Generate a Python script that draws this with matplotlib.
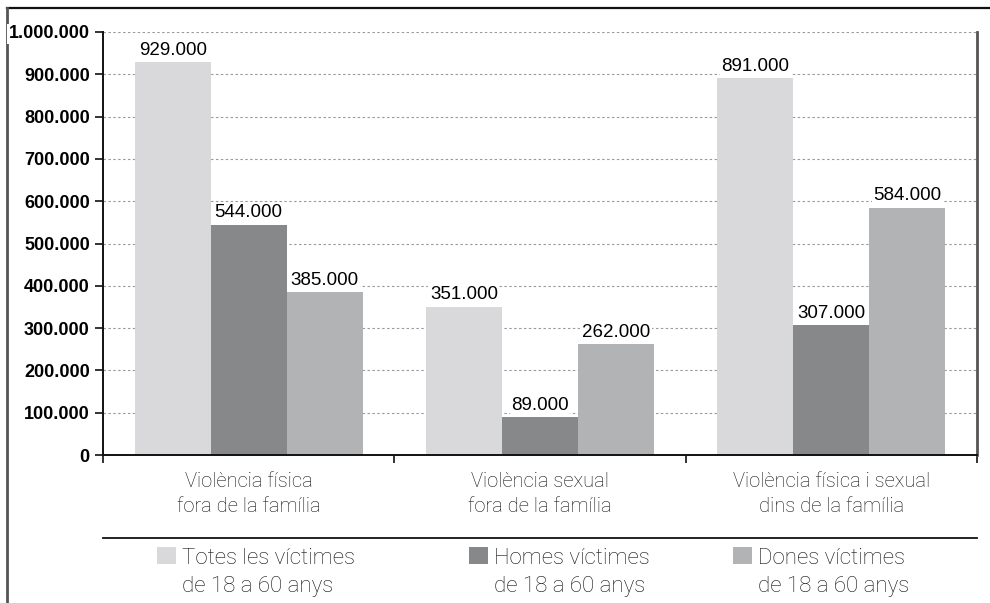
import matplotlib
matplotlib.use("Agg")
import matplotlib.pyplot as plt
import numpy as np
from matplotlib.lines import Line2D
from matplotlib.patches import Rectangle
from matplotlib.ticker import FuncFormatter, FixedLocator, NullFormatter

# Data
categories = ["Violència física\nfora de la família",
              "Violència sexual\nfora de la família",
              "Violència física i sexual\ndins de la família"]
series_names = ["Totes les víctimes\nde 18 a 60 anys",
                "Homes víctimes\nde 18 a 60 anys",
                "Dones víctimes\nde 18 a 60 anys"]
totes = [929000, 351000, 891000]
homes = [544000, 89000, 307000]
dones = [385000, 262000, 584000]
y_ticks = [0, 100000, 200000, 300000, 400000, 500000,
           600000, 700000, 800000, 900000, 1000000]

colors = ["#d9d9db", "#87888a", "#b2b3b5"]
light_family = ["Roboto", "Lato", "Liberation Sans", "DejaVu Sans"]
num_family = ["Liberation Sans", "DejaVu Sans"]


def thousands(v, _pos=None):
    return f"{int(round(v)):,}".replace(",", ".")


fig = plt.figure(figsize=(9.9, 6.03), dpi=100)
ax = fig.add_axes([103 / 990, 1 - 455 / 603, (977 - 103) / 990, (455 - 32) / 603])

x = np.arange(len(categories))
width = 0.261
all_series = [totes, homes, dones]
for i, (vals, col) in enumerate(zip(all_series, colors)):
    bars = ax.bar(x + (i - 1) * width, vals, width=width, color=col,
                  edgecolor="none", zorder=2)
    for b, v in zip(bars, vals):
        ax.annotate(thousands(v), (b.get_x() + b.get_width() / 2, v),
                    xytext=(0, 2.5), textcoords="offset points",
                    ha="center", va="bottom", fontsize=13.5,
                    family=num_family, color="#000000", zorder=4,
                    bbox=dict(boxstyle="square,pad=0.08", fc="white", ec="none"))

ax.set_xlim(-0.5, 2.5)
ax.set_ylim(0, 1000000)

# y axis
ax.yaxis.set_major_locator(FixedLocator(y_ticks))
ax.yaxis.set_major_formatter(FuncFormatter(thousands))
ax.tick_params(axis="y", direction="out", length=5.5, width=1.2,
               pad=4, labelsize=13, color="#111111")
for lbl in ax.get_yticklabels():
    lbl.set_fontweight("bold")
    lbl.set_family(num_family)
    lbl.set_bbox(dict(boxstyle="square,pad=0.1", fc="white", ec="none"))
ax.grid(axis="y", linestyle=(0, (2.2, 2.2)), color="#9a9a9a",
        linewidth=0.8, zorder=1)
ax.set_axisbelow(True)

# x axis: boundary ticks, labels centered under groups
ax.xaxis.set_major_locator(FixedLocator([-0.5, 0.5, 1.5, 2.5]))
ax.xaxis.set_major_formatter(NullFormatter())
ax.xaxis.set_minor_locator(FixedLocator(x))
ax.set_xticklabels(categories, minor=True)
ax.tick_params(axis="x", which="major", direction="out", length=5.5,
               width=1.2, color="#111111")
ax.tick_params(axis="x", which="minor", length=0, pad=12.5, labelsize=14.5,
               labelcolor="#111111")
for lbl in ax.get_xticklabels(minor=True):
    lbl.set_family(light_family)
    lbl.set_fontweight("light")
    lbl.set_linespacing(1.38)

ax.spines["top"].set_visible(False)
ax.spines["left"].set_linewidth(1.4)
ax.spines["left"].set_color("#111111")
ax.spines["bottom"].set_linewidth(1.4)
ax.spines["bottom"].set_color("#111111")
ax.spines["right"].set_linewidth(2.0)
ax.spines["right"].set_color("#555555")

# Outer frame (top and left edges)
fig.add_artist(Line2D([7 / 990, 1.0], [1 - 8 / 603, 1 - 8 / 603],
                      transform=fig.transFigure, color="#111111",
                      linewidth=1.6, zorder=-1))
fig.add_artist(Line2D([7 / 990, 7 / 990], [0.0, 1 - 8 / 603],
                      transform=fig.transFigure, color="#555555",
                      linewidth=2.0, zorder=-1))

# Legend area: separator rule and three entries
fig.add_artist(Line2D([103 / 990, 977 / 990], [1 - 538 / 603, 1 - 538 / 603],
                      transform=fig.transFigure, color="#111111",
                      linewidth=1.3))
patch_x = [157, 469, 733]
for px, name, col in zip(patch_x, series_names, colors):
    fig.add_artist(Rectangle((px / 990, 1 - 564 / 603), 19 / 990, 17 / 603,
                             transform=fig.transFigure, facecolor=col,
                             edgecolor="none"))
    fig.text((px + 25) / 990, 1 - 548 / 603, name, ha="left", va="top",
             fontsize=16, family=light_family, fontweight="light",
             color="#111111", linespacing=1.45)

fig.savefig("out.png", dpi=100, facecolor="white")
